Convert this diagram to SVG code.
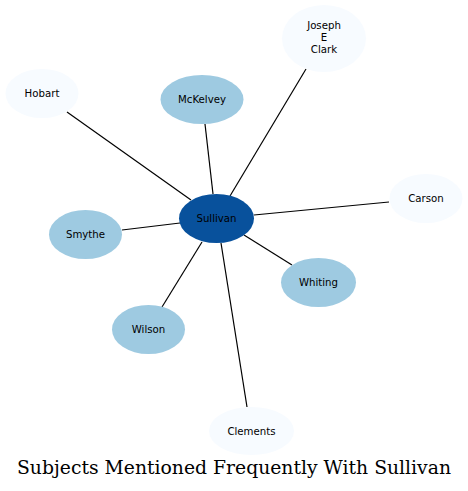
<svg xmlns="http://www.w3.org/2000/svg" width="468" height="491" viewBox="0 0 468 491">
<style>
.e{stroke:#000;stroke-width:1.2;fill:none}
.dark{fill:#08519c}
.mid{fill:#9ecae1}
.light{fill:#f7fbff}
.t{font-family:"DejaVu Sans",sans-serif;font-size:10.2px;fill:#000;text-anchor:middle}
.title{font-family:"DejaVu Serif",serif;font-size:18px;fill:#000;text-anchor:middle}
</style>
<rect width="468" height="491" fill="#fff"/>
<g id="connectors">
<line class="e" x1="67" y1="112" x2="191" y2="200"/>
<line class="e" x1="205" y1="124" x2="213" y2="194"/>
<line class="e" x1="306" y1="69" x2="230" y2="196"/>
<line class="e" x1="389" y1="202" x2="254" y2="215"/>
<line class="e" x1="122" y1="230" x2="180" y2="223"/>
<line class="e" x1="292" y1="265" x2="244" y2="235"/>
<line class="e" x1="162" y1="307" x2="202" y2="242"/>
<line class="e" x1="247" y1="407" x2="221" y2="243"/>
</g>
<g id="sullivan"><ellipse class="dark" cx="216.5" cy="218.5" rx="37.5" ry="24.5"/><text class="t" x="216.5" y="222">Sullivan</text></g>
<g id="joseph-e-clark"><ellipse class="light" cx="324" cy="38.5" rx="42" ry="33.5"/><text class="t" x="324" y="29">Joseph</text><text class="t" x="324" y="41">E</text><text class="t" x="324" y="53">Clark</text></g>
<g id="hobart"><ellipse class="light" cx="42" cy="93.5" rx="36.5" ry="24.5"/><text class="t" x="42" y="97">Hobart</text></g>
<g id="mckelvey"><ellipse class="mid" cx="202" cy="99.5" rx="41.5" ry="24.5"/><text class="t" x="202" y="103">McKelvey</text></g>
<g id="carson"><ellipse class="light" cx="426" cy="198.5" rx="36.5" ry="24.5"/><text class="t" x="426" y="202">Carson</text></g>
<g id="smythe"><ellipse class="mid" cx="85.5" cy="234.5" rx="36.5" ry="24.5"/><text class="t" x="85.5" y="238">Smythe</text></g>
<g id="whiting"><ellipse class="mid" cx="318.5" cy="282.5" rx="37.5" ry="24.5"/><text class="t" x="318.5" y="286">Whiting</text></g>
<g id="wilson"><ellipse class="mid" cx="148.5" cy="329.5" rx="36.5" ry="24.5"/><text class="t" x="148.5" y="333">Wilson</text></g>
<g id="clements"><ellipse class="light" cx="251.5" cy="431" rx="42.5" ry="24"/><text class="t" x="251.5" y="434.5">Clements</text></g>
<text class="title" x="234" y="474" textLength="434" lengthAdjust="spacingAndGlyphs">Subjects Mentioned Frequently With Sullivan</text>
</svg>
